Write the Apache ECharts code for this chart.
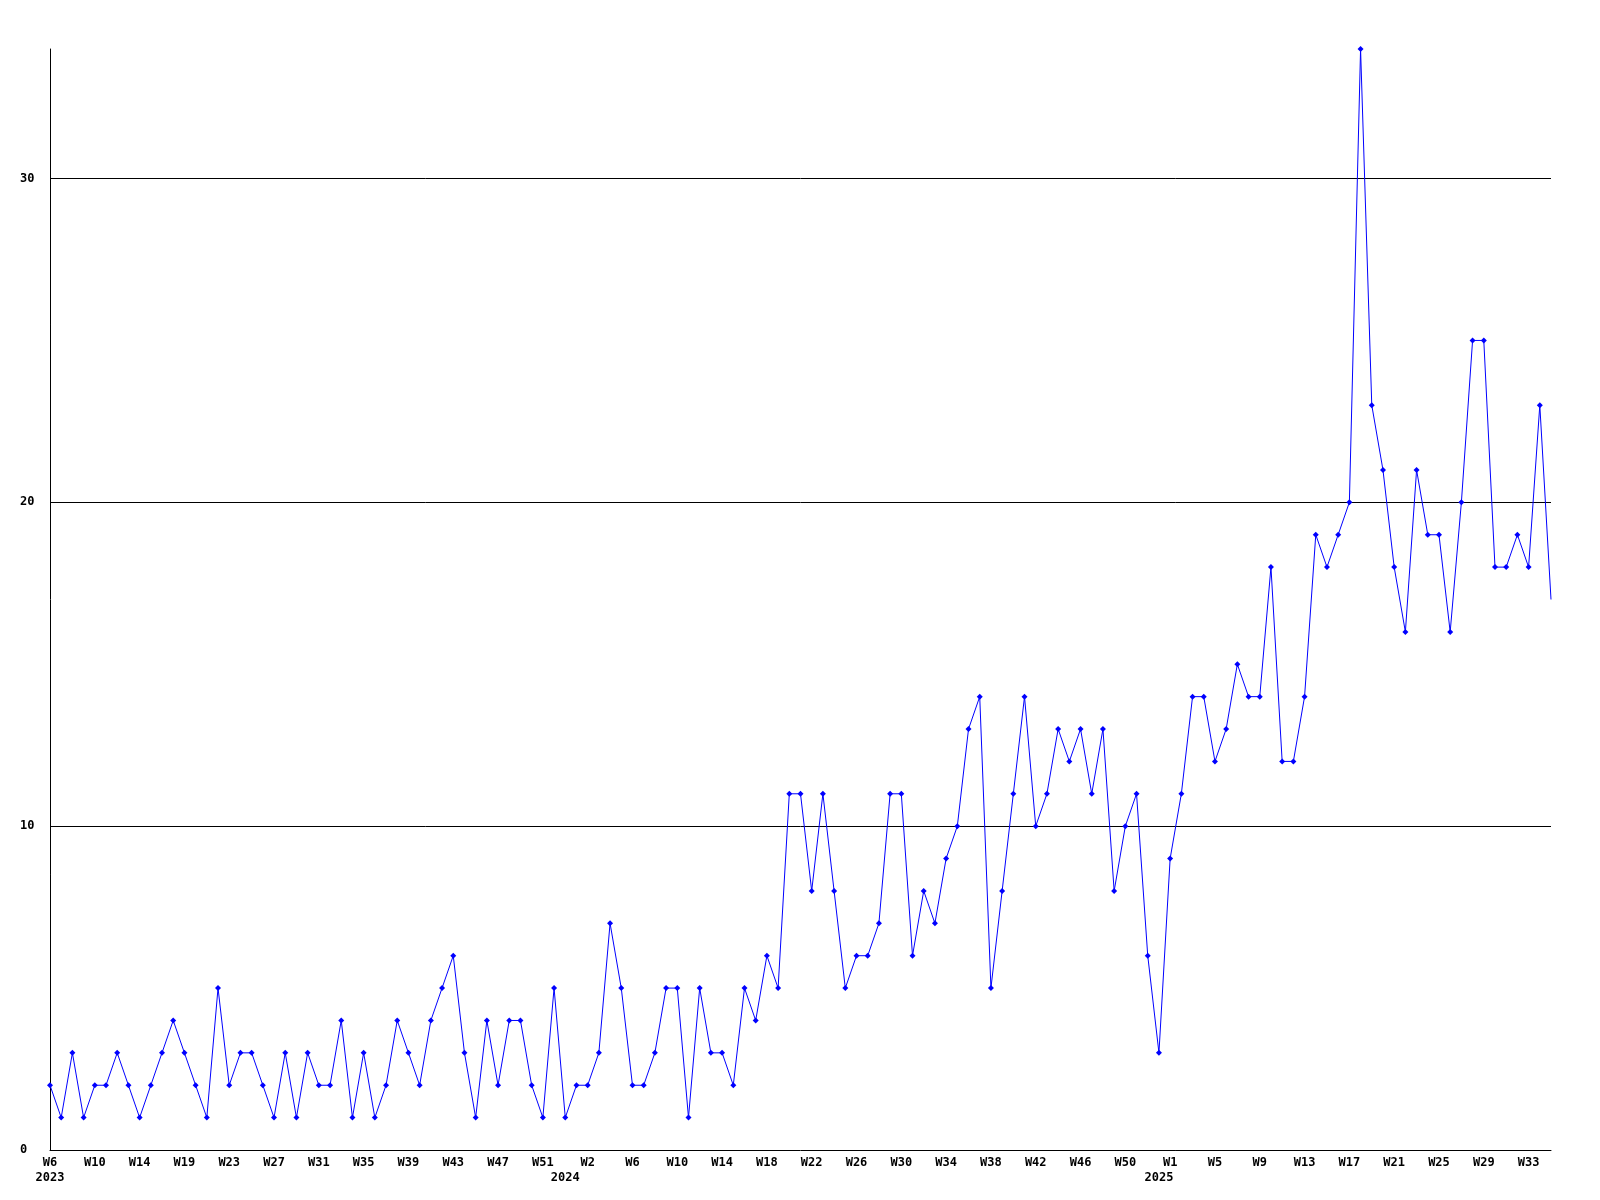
<!DOCTYPE html>
<html>
<head>
<meta charset="utf-8">
<script src="https://cdn.jsdelivr.net/npm/echarts@6/dist/echarts.min.js"></script>
<style>
html,body{margin:0;padding:0;background:#fff;}
#chart{width:1600px;height:1200px;}
</style>
</head>
<body>
<div id="chart"></div>
<script>
// Week labels per year (as printed on the x axis)
const weeks2023 = ['W6','W7','W8','W9','W10','W11','W12','W13','W14','W15','W16','W17','W19','W20','W21','W22','W23','W24','W25','W26','W27','W28','W29','W30','W31','W32','W33','W34','W35','W36','W37','W38','W39','W40','W41','W42','W43','W44','W45','W46','W47','W48','W49','W50','W51','W52'];
const weeks2024 = ['W0','W1','W2','W3','W4','W5','W6','W7','W8','W9','W10','W11','W12','W13','W14','W15','W16','W17','W18','W19','W20','W21','W22','W23','W24','W25','W26','W27','W28','W29','W30','W31','W32','W33','W34','W35','W36','W37','W38','W39','W40','W41','W42','W43','W44','W45','W46','W47','W48','W49','W50','W51','W52'];
const weeks2025 = ['W0','W1','W2','W3','W4','W5','W6','W7','W8','W9','W10','W11','W12','W13','W14','W15','W16','W17','W18','W19','W20','W21','W22','W23','W24','W25','W26','W27','W28','W29','W30','W31','W32','W33','W34','W35'];
const years = ['2023','2024','2025'];

// Weekly values
const values2023 = [2,1,3,1,2,2,3,2,1,2,3,4,3,2,1,5,2,3,3,2,1,3,1,3,2,2,4,1,3,1,2,4,3,2,4,5,6,3,1,4,2,4,4,2,1,5];
const values2024 = [1,2,2,3,7,5,2,2,3,5,5,1,5,3,3,2,5,4,6,5,11,11,8,11,8,5,6,6,7,11,11,6,8,7,9,10,13,14,5,8,11,14,10,11,13,12,13,11,13,8,10,11,6];
const values2025 = [3,9,11,14,14,12,13,15,14,14,18,12,12,14,19,18,19,20,34,23,21,18,16,21,19,19,16,20,25,25,18,18,19,18,23,17];

const yTicks = [0,10,20,30];

// Build combined category list
const weekGroups = [weeks2023, weeks2024, weeks2025];
const valueGroups = [values2023, values2024, values2025];
const categories = [];
const data = [];
const yearStart = {};
weekGroups.forEach((wk, g) => {
  yearStart[categories.length] = years[g];
  wk.forEach((w, k) => {
    categories.push(years[g] + '-' + w);
    data.push(valueGroups[g][k]);
  });
});

const FONT = '"DejaVu Sans Mono", "Liberation Mono", monospace';

const chart = echarts.init(document.getElementById('chart'), null, {renderer: 'canvas'});
chart.setOption({
  animation: false,
  backgroundColor: '#ffffff',
  grid: {left: 50, right: 49, top: 49, bottom: 50, containLabel: false},
  xAxis: {
    type: 'category',
    data: categories,
    boundaryGap: false,
    axisLine: {show: true, lineStyle: {color: '#000', width: 1}},
    axisTick: {show: false},
    splitLine: {show: false},
    axisLabel: {
      interval: (index) => index % 4 === 0 || yearStart[index] !== undefined,
      hideOverlap: false,
      margin: 5,
      color: '#000',
      fontFamily: FONT,
      fontWeight: 'bold',
      fontSize: 12,
      lineHeight: 15,
      formatter: (value, index) => {
        const wk = value.split('-')[1];
        const first = index % 4 === 0 ? wk : '';
        const yr = yearStart[index];
        return yr !== undefined ? first + '\n' + yr : first;
      }
    }
  },
  yAxis: {
    type: 'value',
    min: 0,
    max: 34,
    interval: 10,
    axisLine: {show: true, lineStyle: {color: '#000', width: 1}},
    axisTick: {show: false},
    splitLine: {show: true, showMinLine: false, showMaxLine: false, lineStyle: {color: '#000', width: 1}},
    axisLabel: {
      showMaxLabel: false,
      align: 'left',
      margin: 30,
      color: '#000',
      fontFamily: FONT,
      fontWeight: 'bold',
      fontSize: 12,
      formatter: (v) => yTicks.indexOf(v) >= 0 ? String(v) : ''
    }
  },
  series: [{
    type: 'line',
    data: data,
    symbol: (value, params) => params.dataIndex === data.length - 1 ? 'none' : 'diamond',
    symbolSize: 6,
    showAllSymbol: true,
    lineStyle: {color: '#0000ff', width: 1},
    itemStyle: {color: '#0000ff'},
    emphasis: {disabled: true}
  }]
});
</script>
</body>
</html>
